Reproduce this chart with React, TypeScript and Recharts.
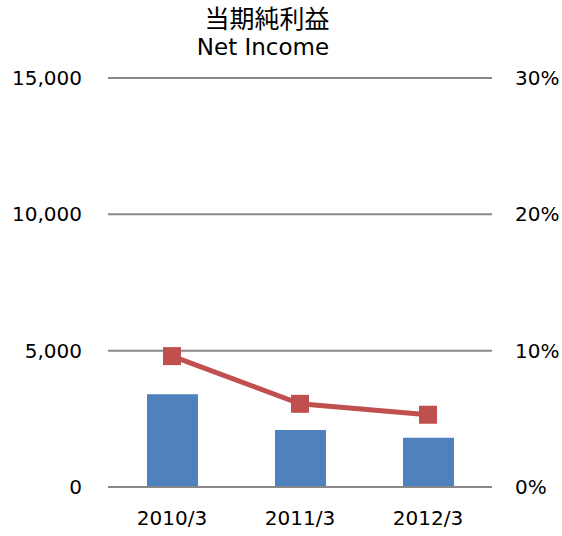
import React from 'react';
import {
  ComposedChart,
  Bar,
  Line,
  XAxis,
  YAxis,
  CartesianGrid,
} from 'recharts';

// fiscal year ends
const periods = ['2010/3', '2011/3', '2012/3'];
// net income (bars, left axis)
const netIncome = [3400, 2090, 1810];
// ratio (line, right axis, %)
const ratio = [9.6, 6.1, 5.3];

const leftTicks = [0, 5000, 10000, 15000];
const rightTicks = [0, 10, 20, 30];

const data = periods.map((p, i) => ({ period: p, income: netIncome[i], ratio: ratio[i] }));

const FONT = '"DejaVu Sans", sans-serif';
const tickStyle = { fill: '#000', fontSize: 20, fontFamily: FONT };

function SquareDot(props: any) {
  const { cx, cy } = props;
  if (cx == null || cy == null) return null;
  return <rect x={cx - 9} y={cy - 9} width={18} height={18} fill="#C0504D" />;
}

export default function App() {
  return (
    <div style={{ position: 'absolute', left: 0, top: 0, width: 562, height: 536, background: '#fff' }}>
      <div
        style={{
          position: 'absolute',
          left: 0,
          width: 534,
          top: 3,
          textAlign: 'center',
          fontFamily: '"Noto Sans CJK JP", sans-serif',
          fontSize: 25,
          lineHeight: '28px',
          color: '#000',
        }}
      >
        当期純利益
      </div>
      <div
        style={{
          position: 'absolute',
          left: 0,
          width: 526,
          top: 33,
          textAlign: 'center',
          fontFamily: FONT,
          fontSize: 23,
          lineHeight: '28px',
          color: '#000',
        }}
      >
        Net Income
      </div>
      <ComposedChart
        width={562}
        height={536}
        data={data}
        margin={{ top: 78, right: 0, left: 0, bottom: 0 }}
      >
        <CartesianGrid yAxisId="left" vertical={false} stroke="#888" strokeWidth={2} />
        <XAxis
          dataKey="period"
          height={49}
          axisLine={{ stroke: '#888', strokeWidth: 2 }}
          tickLine={false}
          tickSize={0}
          tickMargin={24}
          tick={tickStyle}
        />
        <YAxis
          yAxisId="left"
          width={108}
          domain={[0, 15000]}
          ticks={leftTicks}
          axisLine={false}
          tickLine={false}
          tickSize={0}
          tickMargin={26}
          tick={tickStyle}
          tickFormatter={(v) => v.toLocaleString('en-US')}
        />
        <YAxis
          yAxisId="right"
          orientation="right"
          width={70}
          domain={[0, 30]}
          ticks={rightTicks}
          axisLine={false}
          tickLine={false}
          tickSize={0}
          tickMargin={23}
          tick={{ ...tickStyle, textAnchor: 'start' }}
          tickFormatter={(v) => `${v}%`}
        />
        <Bar yAxisId="left" dataKey="income" fill="#4F81BD" barSize={51} isAnimationActive={false} />
        <Line
          yAxisId="right"
          dataKey="ratio"
          type="linear"
          stroke="#C0504D"
          strokeWidth={5}
          dot={<SquareDot />}
          activeDot={false}
          isAnimationActive={false}
        />
      </ComposedChart>
    </div>
  );
}
